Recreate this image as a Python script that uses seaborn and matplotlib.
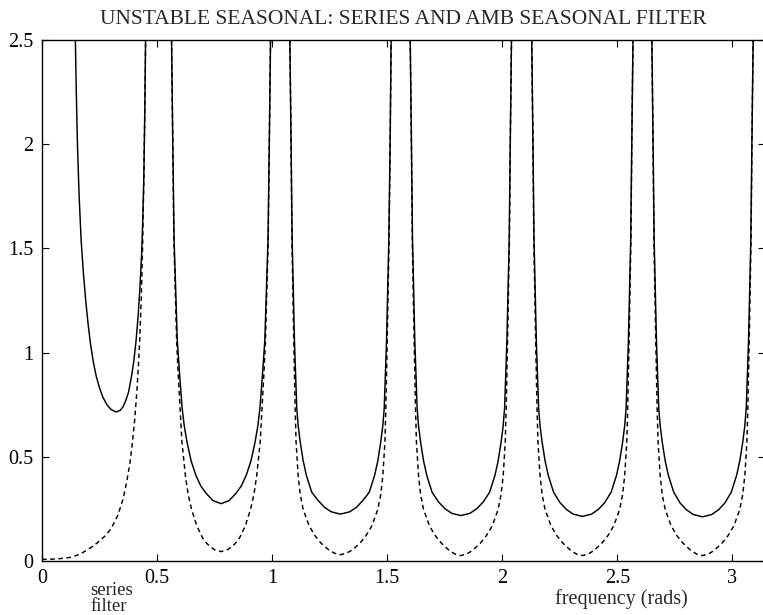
import matplotlib
matplotlib.use("Agg")
import matplotlib.pyplot as plt
import pandas as pd
import seaborn as sns

title = "UNSTABLE SEASONAL: SERIES AND AMB SEASONAL FILTER"
x_label = "frequency (rads)"
legend_labels = ["series", "filter"]
x_ticks = [0, 0.5, 1, 1.5, 2, 2.5, 3]
x_tick_labels = ["0", "0.5", "1", "1.5", "2", "2.5", "3"]
y_ticks = [0, 0.5, 1, 1.5, 2, 2.5]
y_tick_labels = ["0", "0.5", "1", "1.5", "2", "2.5"]

# ---- series spectrum (solid), one arc between consecutive peaks ----
series_freq_1 = [0.140, 0.145, 0.149, 0.154, 0.161, 0.170, 0.180, 0.190, 0.200, 0.211, 0.223, 0.236, 0.250, 0.265,
                 0.282, 0.300, 0.322, 0.340, 0.352, 0.364, 0.376, 0.388, 0.399, 0.409, 0.418, 0.426, 0.433,
                 0.438, 0.442, 0.446, 0.449, 0.451, 0.453]
series_val_1 = [2.8, 2.5, 2.25, 2.0, 1.76, 1.54, 1.38, 1.25, 1.14, 1.04, 0.955, 0.885, 0.83, 0.785,
                0.75, 0.727, 0.715, 0.723, 0.74, 0.77, 0.81, 0.88, 0.96, 1.06, 1.18, 1.32, 1.48,
                1.64, 1.82, 2.1, 2.4, 2.6, 2.8]
series_freq_2 = [0.559, 0.563, 0.568, 0.574, 0.588, 0.598, 0.609, 0.618, 0.630, 0.648, 0.669, 0.690, 0.713, 0.743, 0.778,
                 0.813, 0.843, 0.866, 0.887, 0.908, 0.926, 0.938, 0.947, 0.958, 0.968, 0.982, 0.988, 0.993, 0.997]
series_val_2 = [2.8, 2.5, 2.03, 1.54, 1.056, 0.894, 0.733, 0.65, 0.571, 0.48, 0.41, 0.36, 0.325, 0.29, 0.275,
                0.29, 0.325, 0.36, 0.41, 0.48, 0.571, 0.65, 0.733, 0.894, 1.056, 1.54, 2.03, 2.5, 2.8]
series_freq_3 = [1.073, 1.077, 1.082, 1.087, 1.097, 1.102, 1.107, 1.113, 1.122, 1.135, 1.149, 1.172, 1.200, 1.227, 1.257, 1.297,
                 1.337, 1.367, 1.394, 1.422, 1.445, 1.459, 1.472, 1.481, 1.487, 1.492, 1.497, 1.507, 1.513, 1.517, 1.521]
series_val_3 = [2.8, 2.5, 2.03, 1.54, 1.056, 0.894, 0.733, 0.65, 0.571, 0.48, 0.41, 0.33, 0.29, 0.258, 0.236, 0.225,
                0.236, 0.258, 0.29, 0.33, 0.41, 0.48, 0.571, 0.65, 0.733, 0.894, 1.056, 1.54, 2.03, 2.5, 2.8]
series_freq_4 = [1.596, 1.600, 1.605, 1.610, 1.620, 1.625, 1.630, 1.636, 1.645, 1.658, 1.672, 1.695, 1.723, 1.750, 1.780, 1.820,
                 1.860, 1.890, 1.917, 1.945, 1.968, 1.982, 1.995, 2.004, 2.010, 2.015, 2.020, 2.030, 2.035, 2.040, 2.044]
series_val_4 = [2.8, 2.5, 2.03, 1.54, 1.056, 0.894, 0.733, 0.65, 0.571, 0.48, 0.41, 0.33, 0.283, 0.252, 0.229, 0.218,
                0.229, 0.252, 0.283, 0.33, 0.41, 0.48, 0.571, 0.65, 0.733, 0.894, 1.056, 1.54, 2.03, 2.5, 2.8]
series_freq_5 = [2.124, 2.128, 2.133, 2.138, 2.148, 2.153, 2.158, 2.164, 2.173, 2.186, 2.200, 2.223, 2.251, 2.278, 2.308, 2.348,
                 2.388, 2.418, 2.445, 2.473, 2.496, 2.510, 2.523, 2.532, 2.538, 2.543, 2.548, 2.558, 2.563, 2.568, 2.572]
series_val_5 = [2.8, 2.5, 2.03, 1.54, 1.056, 0.894, 0.733, 0.65, 0.571, 0.48, 0.41, 0.33, 0.28, 0.248, 0.225, 0.214,
                0.225, 0.248, 0.28, 0.33, 0.41, 0.48, 0.571, 0.65, 0.733, 0.894, 1.056, 1.54, 2.03, 2.5, 2.8]
series_freq_6 = [2.646, 2.650, 2.655, 2.660, 2.670, 2.675, 2.680, 2.686, 2.695, 2.708, 2.722, 2.745, 2.773, 2.800, 2.830, 2.870,
                 2.910, 2.940, 2.967, 2.995, 3.018, 3.032, 3.045, 3.054, 3.060, 3.065, 3.070, 3.080, 3.085, 3.090, 3.094]
series_val_6 = [2.8, 2.5, 2.03, 1.54, 1.056, 0.894, 0.733, 0.65, 0.571, 0.48, 0.41, 0.33, 0.278, 0.246, 0.223, 0.212,
                0.223, 0.246, 0.278, 0.33, 0.41, 0.48, 0.571, 0.65, 0.733, 0.894, 1.056, 1.54, 2.03, 2.5, 2.8]

# ---- AMB seasonal filter (dashed) ----
filter_freq_1 = [0.0, 0.05, 0.093, 0.127, 0.165, 0.2, 0.238, 0.272, 0.30, 0.33, 0.353, 0.368, 0.382, 0.393,
                 0.403, 0.412, 0.419, 0.425, 0.431, 0.437, 0.443, 0.449, 0.452]
filter_val_1 = [0.008, 0.009, 0.013, 0.018, 0.033, 0.055, 0.085, 0.118, 0.155, 0.22, 0.30, 0.38, 0.47, 0.57,
                0.68, 0.81, 0.94, 1.07, 1.25, 1.5, 1.87, 2.35, 2.8]
filter_freq_2 = [0.559, 0.563, 0.568, 0.573, 0.585, 0.592, 0.600, 0.608, 0.623, 0.635, 0.650, 0.673, 0.698, 0.718, 0.748, 0.778,
                 0.808, 0.838, 0.858, 0.883, 0.906, 0.921, 0.933, 0.948, 0.956, 0.964, 0.971, 0.983, 0.988, 0.993, 0.997]
filter_val_2 = [2.8, 2.5, 2.03, 1.54, 1.056, 0.894, 0.733, 0.571, 0.41, 0.32, 0.247, 0.168, 0.11, 0.082, 0.055, 0.045,
                0.055, 0.082, 0.11, 0.168, 0.247, 0.32, 0.41, 0.571, 0.733, 0.894, 1.056, 1.54, 2.03, 2.5, 2.8]
filter_freq_3 = [1.073, 1.077, 1.082, 1.086, 1.094, 1.097, 1.100, 1.104, 1.113, 1.122, 1.135, 1.161, 1.187, 1.212, 1.247, 1.272, 1.297,
                 1.322, 1.347, 1.382, 1.407, 1.433, 1.459, 1.472, 1.481, 1.490, 1.494, 1.497, 1.500, 1.508, 1.513, 1.517, 1.521]
filter_val_3 = [2.8, 2.5, 2.03, 1.54, 1.056, 0.894, 0.733, 0.571, 0.41, 0.32, 0.247, 0.168, 0.12, 0.086, 0.052, 0.037, 0.03,
                0.037, 0.052, 0.086, 0.12, 0.168, 0.247, 0.32, 0.41, 0.571, 0.733, 0.894, 1.056, 1.54, 2.03, 2.5, 2.8]
filter_freq_4 = [1.596, 1.600, 1.605, 1.609, 1.617, 1.620, 1.623, 1.627, 1.636, 1.645, 1.658, 1.684, 1.710, 1.735, 1.770, 1.795, 1.820,
                 1.845, 1.870, 1.905, 1.930, 1.956, 1.982, 1.995, 2.004, 2.013, 2.017, 2.020, 2.023, 2.031, 2.035, 2.040, 2.044]
filter_val_4 = [2.8, 2.5, 2.03, 1.54, 1.056, 0.894, 0.733, 0.571, 0.41, 0.32, 0.247, 0.168, 0.12, 0.086, 0.05, 0.033, 0.026,
                0.033, 0.05, 0.086, 0.12, 0.168, 0.247, 0.32, 0.41, 0.571, 0.733, 0.894, 1.056, 1.54, 2.03, 2.5, 2.8]
filter_freq_5 = [2.124, 2.128, 2.133, 2.137, 2.145, 2.148, 2.151, 2.155, 2.164, 2.173, 2.186, 2.212, 2.238, 2.263, 2.298, 2.323, 2.348,
                 2.373, 2.398, 2.433, 2.458, 2.484, 2.510, 2.523, 2.532, 2.541, 2.545, 2.548, 2.551, 2.559, 2.563, 2.568, 2.572]
filter_val_5 = [2.8, 2.5, 2.03, 1.54, 1.056, 0.894, 0.733, 0.571, 0.41, 0.32, 0.247, 0.168, 0.12, 0.086, 0.05, 0.033, 0.026,
                0.033, 0.05, 0.086, 0.12, 0.168, 0.247, 0.32, 0.41, 0.571, 0.733, 0.894, 1.056, 1.54, 2.03, 2.5, 2.8]
filter_freq_6 = [2.646, 2.650, 2.655, 2.659, 2.667, 2.670, 2.673, 2.677, 2.686, 2.695, 2.708, 2.734, 2.760, 2.785, 2.820, 2.845, 2.870,
                 2.895, 2.920, 2.955, 2.980, 3.006, 3.032, 3.045, 3.054, 3.063, 3.067, 3.070, 3.073, 3.081, 3.085, 3.090, 3.094]
filter_val_6 = [2.8, 2.5, 2.03, 1.54, 1.056, 0.894, 0.733, 0.571, 0.41, 0.32, 0.247, 0.168, 0.12, 0.086, 0.05, 0.033, 0.026,
                0.033, 0.05, 0.086, 0.12, 0.168, 0.247, 0.32, 0.41, 0.571, 0.733, 0.894, 1.056, 1.54, 2.03, 2.5, 2.8]

series_arcs = [(series_freq_1, series_val_1), (series_freq_2, series_val_2), (series_freq_3, series_val_3),
               (series_freq_4, series_val_4), (series_freq_5, series_val_5), (series_freq_6, series_val_6)]
filter_arcs = [(filter_freq_1, filter_val_1), (filter_freq_2, filter_val_2), (filter_freq_3, filter_val_3),
               (filter_freq_4, filter_val_4), (filter_freq_5, filter_val_5), (filter_freq_6, filter_val_6)]

rows = []
for curve, arcs in (("series", series_arcs), ("filter", filter_arcs)):
    for i, (fr, va) in enumerate(arcs):
        for f, v in zip(fr, va):
            rows.append({"curve": curve, "unit": f"{curve}{i}", "freq": f, "value": v})
df = pd.DataFrame(rows)

sns.set_theme(style="ticks")
plt.rcParams["font.family"] = ["Liberation Serif", "DejaVu Serif"]

W, H = 763, 615
fig = plt.figure(figsize=(W / 100, H / 100), dpi=100)
ax = fig.add_axes([42 / W, 54 / H, 723 / W, 521 / H])

sns.lineplot(data=df, x="freq", y="value", units="unit", style="curve", estimator=None, sort=False,
             color="black", linewidth=1.05, dashes={"series": "", "filter": (3.2, 2.4)},
             legend=False, ax=ax)

ax.set_xlim(0, 3.14159)
ax.set_ylim(0, 2.5)
ax.set_xticks(x_ticks, x_tick_labels)
ax.set_yticks(y_ticks, y_tick_labels)
ax.set_xlabel("")
ax.set_ylabel("")
ax.tick_params(direction="in", length=5, width=0.8, top=True, right=True, labelsize=14.5,
               colors="black", pad=6)
for s in ax.spines.values():
    s.set_visible(True)
    s.set_linewidth(1.0)
    s.set_color("black")

fig.text(403 / W, 1 - 19 / H, title, ha="center", va="center", fontsize=15.5)
fig.text(90 / W, (H - 595) / H, legend_labels[0], ha="left", va="baseline", fontsize=13.5)
fig.text(90 / W, (H - 611) / H, legend_labels[1], ha="left", va="baseline", fontsize=13.5)
fig.text(621 / W, (H - 604) / H, x_label, ha="center", va="baseline", fontsize=14.5)

fig.savefig("out.png", dpi=100)
